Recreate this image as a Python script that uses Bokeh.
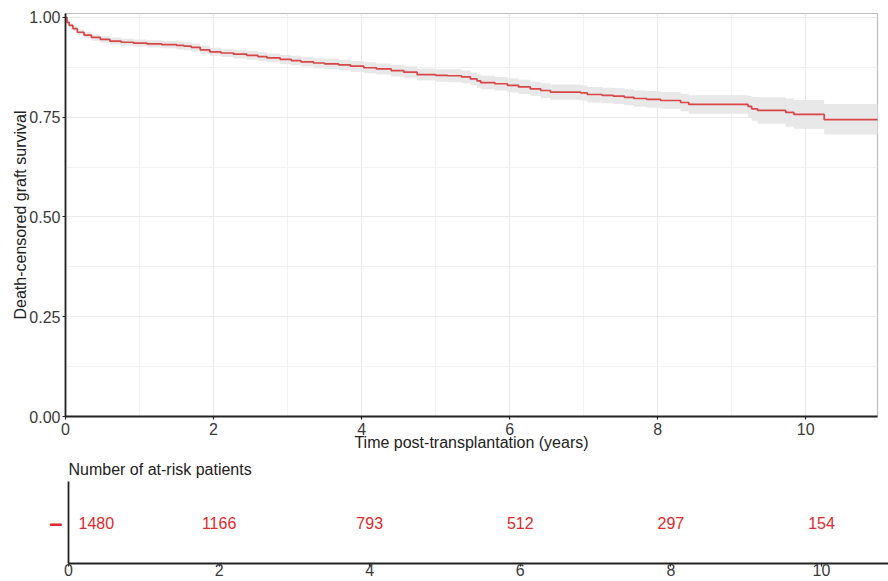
from bokeh.plotting import figure
from bokeh.models import FixedTicker, PrintfTickFormatter, Range1d, ColumnDataSource
from bokeh.core.properties import value
from bokeh.embed import file_html
from bokeh.resources import INLINE

# ---- data ----
time_years = [0, 0.02, 0.05, 0.1, 0.16, 0.25, 0.35, 0.47, 0.6, 0.75,
              0.92, 1.1, 1.3, 1.5, 1.6, 1.7, 1.82, 1.95, 2.1, 2.27,
              2.45, 2.6, 2.72, 2.9, 3.05, 3.18, 3.35, 3.5, 3.69, 3.85,
              4.03, 4.2, 4.4, 4.57, 4.75, 5.0, 5.16, 5.35, 5.47, 5.56,
              5.61, 5.8, 5.97, 6.12, 6.28, 6.42, 6.55, 6.96, 7.05, 7.25,
              7.4, 7.55, 7.68, 7.85, 8.04, 8.31, 8.42, 9.22, 9.27, 9.35,
              9.73, 9.84, 10.25, 11.0]
survival = [1.000, 0.988, 0.980, 0.972, 0.963, 0.956, 0.950, 0.945, 0.941, 0.938,
            0.936, 0.934, 0.932, 0.930, 0.928, 0.925, 0.919, 0.914, 0.911, 0.908,
            0.905, 0.902, 0.899, 0.895, 0.892, 0.889, 0.886, 0.884, 0.881, 0.878,
            0.874, 0.871, 0.867, 0.863, 0.857, 0.855, 0.854, 0.851, 0.846, 0.841,
            0.837, 0.834, 0.830, 0.826, 0.821, 0.817, 0.813, 0.811, 0.807, 0.805,
            0.803, 0.800, 0.797, 0.795, 0.792, 0.787, 0.782, 0.777, 0.771, 0.767,
            0.762, 0.757, 0.744, 0.744]
ci_lower = [1.000, 0.984, 0.975, 0.966, 0.956, 0.948, 0.942, 0.937, 0.932, 0.929,
            0.927, 0.925, 0.923, 0.920, 0.918, 0.915, 0.909, 0.904, 0.901, 0.897,
            0.894, 0.891, 0.888, 0.883, 0.880, 0.877, 0.873, 0.871, 0.868, 0.864,
            0.860, 0.857, 0.852, 0.848, 0.842, 0.839, 0.838, 0.835, 0.830, 0.824,
            0.820, 0.817, 0.812, 0.808, 0.803, 0.798, 0.794, 0.792, 0.787, 0.785,
            0.783, 0.780, 0.776, 0.774, 0.771, 0.765, 0.759, 0.750, 0.741, 0.734,
            0.727, 0.721, 0.707, 0.707]
ci_upper = [1.000, 0.992, 0.985, 0.978, 0.970, 0.964, 0.958, 0.953, 0.950, 0.947,
            0.945, 0.943, 0.941, 0.940, 0.938, 0.935, 0.929, 0.924, 0.921, 0.918,
            0.916, 0.913, 0.910, 0.906, 0.904, 0.901, 0.898, 0.897, 0.894, 0.891,
            0.888, 0.885, 0.881, 0.878, 0.872, 0.870, 0.870, 0.867, 0.862, 0.857,
            0.854, 0.851, 0.847, 0.844, 0.839, 0.835, 0.832, 0.830, 0.826, 0.824,
            0.823, 0.820, 0.817, 0.816, 0.813, 0.809, 0.805, 0.804, 0.801, 0.800,
            0.797, 0.793, 0.783, 0.783]

risk_times = [0, 2, 4, 6, 8, 10]
risk_counts = [1480, 1166, 793, 512, 297, 154]

x_ticks = [0, 2, 4, 6, 8, 10]
x_minor = [1, 3, 5, 7, 9]
y_ticks = [0.0, 0.25, 0.5, 0.75, 1.0]
y_minor = [0.125, 0.375, 0.625, 0.875]

FONT = "Liberation Sans"
LINE_RED = "#D94646"
TEXT_RED = "#E02A2C"
AXIS_COL = "#222222"
TICK_TXT = "#3a3a3a"

# ---- main survival plot ----
p = figure(width=888, height=454, output_backend="svg", toolbar_location=None,
           x_range=Range1d(0, 10.97), y_range=Range1d(0, 1.01),
           min_border_left=65, min_border_right=11, min_border_top=13, min_border_bottom=38)
p.background_fill_color = "white"
p.outline_line_color = "#bdbdbd"
p.outline_line_width = 1.2

p.xaxis.ticker = FixedTicker(ticks=x_ticks, minor_ticks=x_minor)
p.yaxis.ticker = FixedTicker(ticks=y_ticks, minor_ticks=y_minor)
p.yaxis.formatter = PrintfTickFormatter(format="%.2f")

for ax in (p.xaxis, p.yaxis):
    ax.axis_line_color = AXIS_COL
    ax.axis_line_width = 1.8
    ax.major_tick_line_color = AXIS_COL
    ax.major_tick_line_width = 1.2
    ax.major_tick_out = 3
    ax.major_tick_in = 0
    ax.minor_tick_line_color = None
    ax.major_label_text_font = FONT
    ax.major_label_text_font_size = "16px"
    ax.major_label_text_color = TICK_TXT
    ax.axis_label_text_font = FONT
    ax.axis_label_text_font_size = "16px"
    ax.axis_label_text_font_style = "normal"
    ax.axis_label_text_color = AXIS_COL

p.xaxis.major_label_standoff = 2
p.xaxis.axis_label_standoff = -4
p.yaxis.major_label_standoff = 1
p.yaxis.axis_label_standoff = -3
p.xaxis.axis_label = "Time post-transplantation (years)"
p.yaxis.axis_label = "Death-censored graft survival"

p.xgrid.grid_line_color = "#ebebeb"
p.ygrid.grid_line_color = "#ebebeb"
p.xgrid.minor_grid_line_color = "#f2f2f2"
p.ygrid.minor_grid_line_color = "#f2f2f2"

src = ColumnDataSource(dict(t=time_years, s=survival, lo=ci_lower, hi=ci_upper))
p.varea_step(x="t", y1="lo", y2="hi", step_mode="after", source=src,
             fill_color="#e8e8e8", fill_alpha=1.0)
p.step(x="t", y="s", mode="after", source=src, line_color=LINE_RED, line_width=1.7)

# ---- at-risk table ----
r = figure(width=888, height=127, output_backend="svg", toolbar_location=None,
           x_range=Range1d(0, 10.89), y_range=Range1d(-1, 1),
           min_border_left=68, min_border_right=0, min_border_top=26, min_border_bottom=18,
           title="Number of at-risk patients")
r.title.text_font = FONT
r.title.text_font_size = "16px"
r.title.text_font_style = "normal"
r.title.text_color = AXIS_COL
r.title.align = "left"
r.title.standoff = 8
r.title.offset = 0
r.outline_line_color = None
r.xgrid.grid_line_color = None
r.ygrid.grid_line_color = None

r.xaxis.ticker = FixedTicker(ticks=x_ticks)
r.yaxis.ticker = FixedTicker(ticks=[0])
r.yaxis.major_label_overrides = {0: "\u2013"}
r.yaxis.major_label_text_color = TEXT_RED
r.yaxis.major_label_text_font = FONT
r.yaxis.major_label_text_font_size = "24px"
r.yaxis.major_label_text_font_style = "bold"
r.yaxis.major_tick_line_color = None
r.yaxis.major_label_standoff = 0
for ax in (r.xaxis, r.yaxis):
    ax.axis_line_color = AXIS_COL
    ax.axis_line_width = 1.8
    ax.minor_tick_line_color = None
r.xaxis.major_tick_line_color = AXIS_COL
r.xaxis.major_tick_line_width = 1.2
r.xaxis.major_tick_out = 3
r.xaxis.major_tick_in = 0
r.xaxis.major_label_standoff = -3
r.xaxis.major_label_text_font = FONT
r.xaxis.major_label_text_font_size = "16px"
r.xaxis.major_label_text_color = TICK_TXT

labels = [str(c) for c in risk_counts]
first = ColumnDataSource(dict(x=risk_times[:1], y=[0], txt=labels[:1]))
rest = ColumnDataSource(dict(x=risk_times[1:], y=[0] * (len(risk_times) - 1), txt=labels[1:]))
r.text(x="x", y="y", text="txt", source=first, text_align="left", text_baseline="middle",
       x_offset=10, text_color=TEXT_RED, text_font=value(FONT), text_font_size="16px")
r.text(x="x", y="y", text="txt", source=rest, text_align="center", text_baseline="middle",
       text_color=TEXT_RED, text_font=value(FONT), text_font_size="16px")

# two independent roots so the frames are not forced into alignment
open("out.html", "w").write(file_html([p, r], INLINE))
